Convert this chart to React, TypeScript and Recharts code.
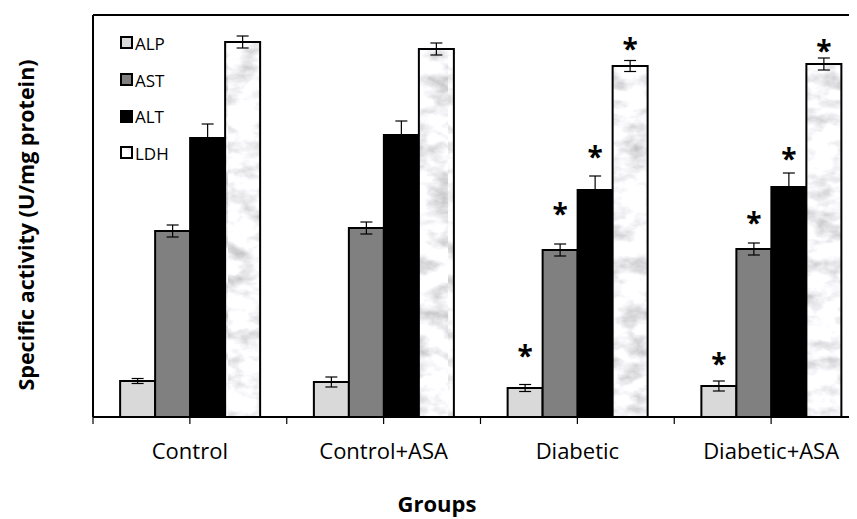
import { Bar, BarChart, ErrorBar, Label, LabelList, Legend, ReferenceLine, XAxis, YAxis } from 'recharts';

const CATEGORIES = ['Control', 'Control+ASA', 'Diabetic', 'Diabetic+ASA'];

const ALP = [36, 35, 29, 31];
const ALP_ERR = [2.5, 5, 3.5, 5];
const AST = [186, 189, 167, 168];
const AST_ERR = [6, 6, 6, 6];
const ALT = [279, 282, 227, 230];
const ALT_ERR = [14, 14, 14, 14];
const LDH = [375, 368, 351, 353];
const LDH_ERR = [6, 6, 5.5, 6];

// height of the significance asterisk (same units), null = none
const ALP_STAR = [null, null, 65, 57];
const AST_STAR = [null, null, 207, 198];
const ALT_STAR = [null, null, 264, 262];
const LDH_STAR = [null, null, 372, 370];

const Y_MAX = 402;

const W = 849;
const H = 511;
const MARGIN = { top: 7, right: -11, left: 84, bottom: 42 };
const PLOT_W = W - 85 - MARGIN.right;
const PLOT_H = 402;
const PX = PLOT_H / Y_MAX;
const STEP = PLOT_W / CATEGORIES.length;
const FONT = '"Open Sans", sans-serif';

const SERIES = [
  { key: 'alp', name: 'ALP', fill: '#d9d9d9' },
  { key: 'ast', name: 'AST', fill: '#808080' },
  { key: 'alt', name: 'ALT', fill: '#000000' },
  { key: 'ldh', name: 'LDH', fill: 'url(#marble)' },
];

const data = CATEGORIES.map((group, i) => ({
  group,
  alp: ALP[i],
  alpErr: ALP_ERR[i],
  alpStar: ALP_STAR[i],
  ast: AST[i],
  astErr: AST_ERR[i],
  astStar: AST_STAR[i],
  alt: ALT[i],
  altErr: ALT_ERR[i],
  altStar: ALT_STAR[i],
  ldh: LDH[i],
  ldhErr: LDH_ERR[i],
  ldhStar: LDH_STAR[i],
}));

function Star(props: any) {
  const { x, y, width, height, value } = props;
  if (value == null) return null;
  const base = y + height;
  const cy = base - value * PX;
  return (
    <text x={x + width / 2} y={cy + 14} textAnchor="middle" fontSize={28} fontWeight={700} fontFamily={FONT} fill="#000">
      *
    </text>
  );
}

function GroupTick(props: any) {
  const { x, y, payload, index } = props;
  return (
    <g>
      <line x1={x} x2={x} y1={y} y2={y + 7} stroke="#000" strokeWidth={1.2} />
      <line x1={x - STEP / 2} x2={x - STEP / 2} y1={y} y2={y + 7} stroke="#000" strokeWidth={1.2} />
      {index === CATEGORIES.length - 1 && (
        <line x1={x + STEP / 2} x2={x + STEP / 2} y1={y} y2={y + 7} stroke="#000" strokeWidth={1.2} />
      )}
      <text x={x} y={y + 34} dy="0.35em" textAnchor="middle" fontSize={22} fontFamily={FONT} fill="#000">
        {payload.value}
      </text>
    </g>
  );
}

function LegendBox() {
  return (
    <div style={{ fontFamily: FONT, fontSize: 17, color: '#000' }}>
      {SERIES.map((s) => (
        <div key={s.key} style={{ display: 'flex', alignItems: 'center', height: 36.7 }}>
          <svg width={14} height={14} style={{ marginRight: 1 }}>
            <rect x={1} y={1} width={11} height={11} fill={s.fill} stroke="#000" strokeWidth={2} />
          </svg>
          <span>{s.name}</span>
        </div>
      ))}
    </div>
  );
}

export default function App() {
  return (
    <div style={{ width: W, height: H }}>
      <svg width={0} height={0} style={{ position: 'absolute' }}>
        <defs>
          <filter id="marbleNoise" x="0" y="0" width="100%" height="100%">
            <feTurbulence type="fractalNoise" baseFrequency="0.035 0.06" numOctaves={4} seed={3} />
            <feColorMatrix
              type="matrix"
              values="1.1 0 0 0 0.38  1.1 0 0 0 0.38  1.1 0 0 0 0.4  0 0 0 0 1"
            />
          </filter>
          <pattern id="marble" patternUnits="userSpaceOnUse" width={220} height={420}>
            <rect width={220} height={420} fill="#eeeeee" filter="url(#marbleNoise)" />
          </pattern>
        </defs>
      </svg>
      <BarChart width={W} height={H} data={data} margin={MARGIN} barCategoryGap="14%" barGap={0}>
        <XAxis
          dataKey="group"
          height={60}
          axisLine={{ stroke: '#000', strokeWidth: 2 }}
          tickLine={false}
          tickSize={0}
          tickMargin={0}
          tick={<GroupTick />}
          interval={0}
        >
          <Label
            content={() => (
              <text x={429} y={496} dy="0.35em" textAnchor="middle" fontSize={22} fontWeight={700} fontFamily={FONT} fill="#000">
                Groups
              </text>
            )}
          />
        </XAxis>
        <YAxis
          domain={[0, Y_MAX]}
          width={1}
          tick={false}
          tickLine={false}
          axisLine={{ stroke: '#000', strokeWidth: 2 }}
          label={{
            content: () => (
              <text
                x={18}
                y={217}
                dy="0.35em"
                transform="rotate(-90 18 217)"
                textAnchor="middle"
                fontSize={21.5}
                fontWeight={700}
                fontFamily={FONT}
                fill="#000"
              >
                Specific activity (U/mg protein)
              </text>
            ),
          }}
        />
        <ReferenceLine y={Y_MAX} stroke="#000" strokeWidth={2} ifOverflow="extendDomain" />
        <Legend
          layout="horizontal"
          verticalAlign="middle"
          align="center"
          wrapperStyle={{ left: 112, top: 17, width: 'auto' }}
          content={() => <LegendBox />}
        />
        {SERIES.map((s) => (
          <Bar key={s.key} dataKey={s.key} name={s.name} fill={s.fill} stroke="#000" strokeWidth={2} isAnimationActive={false}>
            <ErrorBar dataKey={`${s.key}Err`} width={6} stroke="#000" strokeWidth={1.2} direction="y" />
            <LabelList dataKey={`${s.key}Star`} content={<Star />} />
          </Bar>
        ))}
      </BarChart>
    </div>
  );
}
